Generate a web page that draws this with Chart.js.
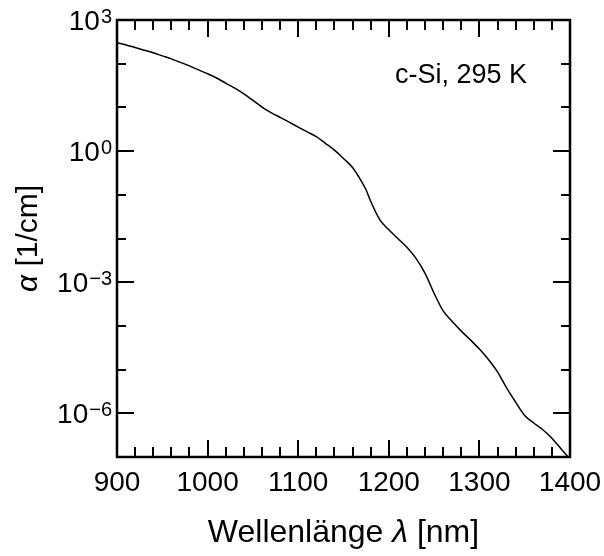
<!DOCTYPE html>
<html>
<head>
<meta charset="utf-8">
<script src="https://cdn.jsdelivr.net/npm/chart.js@4.4.0/dist/chart.umd.min.js"></script>
<style>
  html, body { margin: 0; padding: 0; background: #fff; }
  #wrap { width: 604px; height: 556px; }
</style>
</head>
<body>
<div id="wrap"><canvas id="myChart" width="604" height="556"></canvas></div>
<script>
// Wellenlänge in nm
const wellenlaenge = [
  900, 910, 920, 930, 940, 950, 960, 970, 980, 990,
  1000, 1010, 1020, 1030, 1040, 1050, 1060, 1070, 1080, 1090,
  1100, 1110, 1120, 1130, 1140, 1150, 1160, 1170, 1175, 1180,
  1190, 1200, 1210, 1220, 1230, 1240, 1250, 1260, 1270, 1280,
  1290, 1300, 1310, 1320, 1330, 1340, 1350, 1360, 1370, 1380,
  1390, 1400
];
// Absorptionskoeffizient alpha in 1/cm (c-Si, 295 K)
const alpha = [
  302, 269, 234, 204, 178, 151, 129, 107, 89, 72,
  59, 47, 36, 27.5, 20.4, 14.5, 10.2, 7.6, 5.9, 4.6,
  3.55, 2.75, 2.14, 1.51, 1.05, 0.68, 0.42, 0.2, 0.129, 0.071,
  0.027, 0.0158, 0.01, 6.3e-3, 3.5e-3, 1.6e-3, 5.6e-4, 2.2e-4, 1.26e-4, 7.6e-5,
  4.8e-5, 2.95e-5, 1.7e-5, 8.9e-6, 3.8e-6, 1.8e-6, 8.9e-7, 6.0e-7, 4.2e-7, 2.7e-7,
  1.55e-7, 8.9e-8
];
// Achsenbeschriftungen
const xTicks = [900, 1000, 1100, 1200, 1300, 1400];
const yExponents = [3, 0, -3, -6];

const FONT = '"Liberation Sans", Arial, sans-serif';

// Rahmen, Ticks nach innen und Beschriftungen selbst zeichnen
const rahmenPlugin = {
  id: 'rahmen',
  afterDraw(chart) {
    const ctx = chart.ctx;
    const a = chart.chartArea;
    const xs = chart.scales.x;
    const ys = chart.scales.y;
    ctx.save();
    ctx.strokeStyle = '#000';
    ctx.fillStyle = '#000';

    // Ticks x (oben und unten)
    ctx.lineWidth = 2;
    ctx.beginPath();
    for (let v = 900; v <= 1400; v += 20) {
      const px = Math.round(xs.getPixelForValue(v));
      const len = (v % 100 === 0) ? 17 : 10;
      ctx.moveTo(px, a.bottom); ctx.lineTo(px, a.bottom - len);
      ctx.moveTo(px, a.top); ctx.lineTo(px, a.top + len);
    }
    // Ticks y (links und rechts)
    for (let e = -7; e <= 3; e++) {
      const py = Math.round(ys.getPixelForValue(Math.pow(10, e)));
      const len = (e % 3 === 0) ? 17 : 9;
      ctx.moveTo(a.left, py); ctx.lineTo(a.left + len, py);
      ctx.moveTo(a.right, py); ctx.lineTo(a.right - len, py);
    }
    ctx.stroke();

    // Rahmen
    ctx.lineWidth = 2.5;
    ctx.strokeRect(a.left, a.top, a.right - a.left, a.bottom - a.top);

    // x-Beschriftung
    ctx.font = '28px ' + FONT;
    ctx.textAlign = 'center';
    ctx.textBaseline = 'alphabetic';
    xTicks.forEach(v => {
      ctx.fillText(String(v), xs.getPixelForValue(v), 491);
    });

    // y-Beschriftung mit Exponent
    yExponents.forEach(e => {
      const py = ys.getPixelForValue(Math.pow(10, e));
      const exp = e < 0 ? '\u2212' + Math.abs(e) : String(e);
      ctx.font = '20px ' + FONT;
      const wExp = ctx.measureText(exp).width;
      ctx.textAlign = 'right';
      ctx.fillText(exp, 112, py + 3);
      ctx.font = '28px ' + FONT;
      ctx.fillText('10', 112 - wExp - 1, py + 10);
    });

    // x-Titel
    const cx = (a.left + a.right) / 2;
    const teile = [
      { t: 'Wellenlänge ', f: '32px ' + FONT },
      { t: 'λ', f: 'italic 32px ' + FONT },
      { t: ' [nm]', f: '32px ' + FONT }
    ];
    let gesamt = 0;
    teile.forEach(p => { ctx.font = p.f; p.w = ctx.measureText(p.t).width; gesamt += p.w; });
    let x0 = cx - gesamt / 2;
    ctx.textAlign = 'left';
    teile.forEach(p => { ctx.font = p.f; ctx.fillText(p.t, x0, 542); x0 += p.w; });

    // y-Titel (gedreht)
    const cy = (a.top + a.bottom) / 2;
    ctx.translate(37, cy);
    ctx.rotate(-Math.PI / 2);
    const yteile = [
      { t: 'α', f: 'italic 30px ' + FONT },
      { t: ' [1/cm]', f: '30px ' + FONT }
    ];
    gesamt = 0;
    yteile.forEach(p => { ctx.font = p.f; p.w = ctx.measureText(p.t).width; gesamt += p.w; });
    x0 = -gesamt / 2;
    yteile.forEach(p => { ctx.font = p.f; ctx.fillText(p.t, x0, 0); x0 += p.w; });
    ctx.setTransform(1, 0, 0, 1, 0, 0);

    // Probenangabe
    ctx.font = '27px ' + FONT;
    ctx.textAlign = 'left';
    ctx.fillText('c-Si, 295 K', 395, 83);

    ctx.restore();
  }
};

const datenPunkte = wellenlaenge.map((w, i) => ({ x: w, y: alpha[i] }));

const ctx = document.getElementById('myChart').getContext('2d');
const chart = new Chart(ctx, {
  type: 'line',
  data: {
    datasets: [
      {
        label: 'c-Si, 295 K',
        data: datenPunkte,
        borderColor: '#000',
        borderWidth: 1.5,
        pointRadius: 0,
        fill: false,
        cubicInterpolationMode: 'monotone'
      }
    ]
  },
  options: {
    responsive: false,
    animation: false,
    devicePixelRatio: 1,
    layout: { padding: { left: 117, right: 34, top: 20, bottom: 99 } },
    scales: {
      x: { type: 'linear', min: 900, max: 1400, display: false },
      y: { type: 'logarithmic', min: 1e-7, max: 1e3, display: false }
    },
    plugins: {
      legend: { display: false },
      tooltip: { enabled: false }
    }
  },
  plugins: [rahmenPlugin]
});
</script>
</body>
</html>
